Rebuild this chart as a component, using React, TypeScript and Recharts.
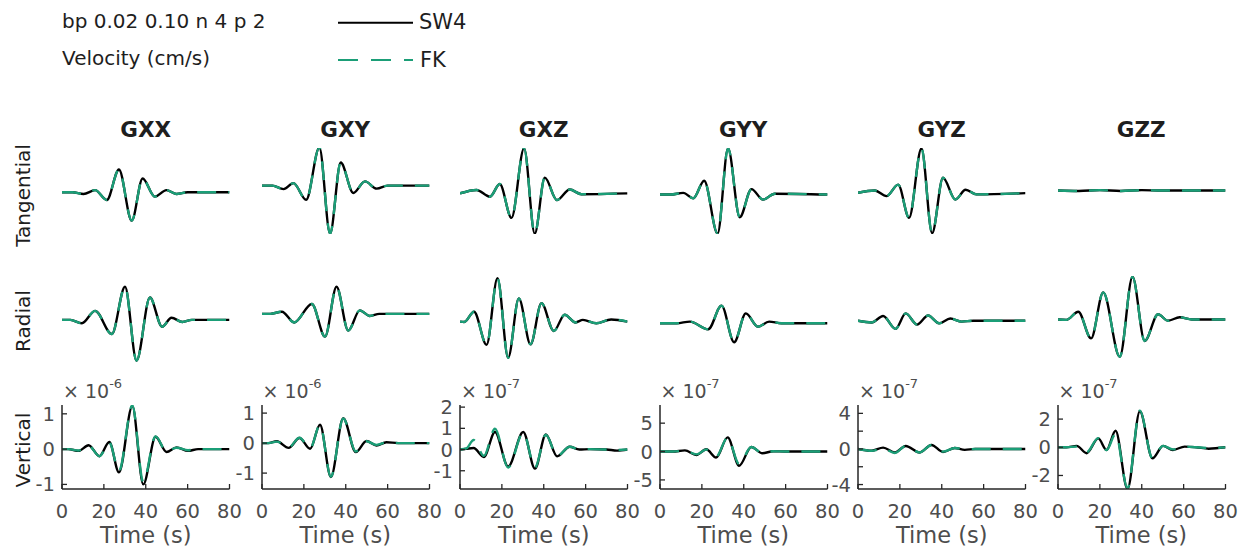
import { LineChart, Line, XAxis, YAxis } from 'recharts'

const FONT = '"DejaVu Sans", sans-serif'
const GREEN = '#1b9e77'
const AXIS = '#262626'
const LABEL = '#4d4d4d'
const INK = '#1e1e1e'

const components = ['GXX', 'GXY', 'GXZ', 'GYY', 'GYZ', 'GZZ']
const rowNames = ['Tangential', 'Radial', 'Vertical']
const timeTicks = [0, 20, 40, 60, 80]

// Tangential traces, normalised amplitude, sampled at the wiggle extrema (s)
const tanTimes = [
  [0, 5, 10.3, 15.8, 21.4, 27.2, 33.3, 38.5, 44.3, 49.9, 54.6, 60, 80],
  [0, 5, 10.3, 15.0, 21.1, 27.4, 32.5, 37.6, 43.6, 49.2, 54.8, 60, 80],
  [0, 7.9, 14.3, 19.0, 24.6, 30.6, 35.7, 40.5, 46.3, 52.4, 58, 80],
  [0, 5, 11.1, 15.9, 21.1, 27.5, 32.5, 38.1, 43.7, 49.2, 54.8, 80],
  [0, 8.0, 13.6, 19.2, 24.4, 30.3, 35.4, 40.6, 46.5, 51.4, 56.5, 80],
  [0, 10, 20, 30, 40, 50, 80],
]
const tanSW4 = [
  [0, 0, -0.04, 0.05, -0.18, 0.53, -0.66, 0.32, -0.1, 0.05, -0.04, 0, 0],
  [0, 0, -0.08, 0.06, -0.33, 0.89, -1.12, 0.54, -0.17, 0.1, -0.07, 0, 0],
  [0, 0.08, -0.08, 0.22, -0.58, 1.06, -0.95, 0.37, -0.16, 0.09, -0.02, 0],
  [0, 0, 0.04, -0.09, 0.33, -0.93, 1.1, -0.54, 0.13, -0.12, 0.02, 0],
  [0, 0.05, -0.08, 0.19, -0.59, 1.04, -0.95, 0.35, -0.16, 0.07, -0.04, -0.01],
  [0, -0.01, 0.01, -0.01, 0.01, 0, 0],
]
// FK overlies SW4 on the tangential and radial rows
const tanFK = tanSW4
const tanLim = [[-0.97, 1.03], [-1.13, 0.88], [-0.96, 1.07], [-0.94, 1.11], [-0.97, 1.05], [-1.01, 0.99]]

// Radial traces
const radTimes = [
  [0, 4, 9.5, 15.8, 23.8, 30.1, 35.6, 42.0, 47.8, 52.3, 57.5, 62, 80],
  [0, 4, 9.5, 15.4, 23.8, 30.1, 35.6, 41.2, 46.7, 51.5, 56, 80],
  [0, 2, 6.7, 12.7, 17.9, 23.0, 28.1, 33.7, 38.9, 44.8, 50.0, 55.2, 58.7, 65.1, 72.2, 80],
  [0, 8, 14.3, 23.0, 29.4, 35.4, 41.0, 46.8, 52.1, 58, 80],
  [0, 6.5, 12.0, 17.9, 22.8, 28.2, 33.5, 38.7, 44.1, 49.5, 55, 80],
  [0, 4, 9.7, 15.8, 21.6, 29.5, 35.6, 41.4, 47.8, 52.5, 58.1, 64, 80],
]
const radSW4 = [
  [0, 0, -0.08, 0.21, -0.33, 0.77, -0.95, 0.52, -0.16, 0.05, -0.05, 0, 0],
  [0, 0, 0.05, -0.2, 0.23, -0.53, 0.63, -0.39, 0.08, -0.05, 0, 0],
  [0, -0.01, 0.23, -0.54, 1.01, -0.84, 0.54, -0.53, 0.43, -0.22, 0.16, -0.02, 0.04, -0.04, 0.05, 0],
  [0, 0, 0.04, -0.14, 0.41, -0.44, 0.23, -0.08, 0.04, 0, 0],
  [0, -0.04, 0.11, -0.19, 0.17, -0.09, 0.12, -0.06, 0.05, -0.02, 0, 0],
  [0, -0.01, 0.18, -0.44, 0.63, -0.87, 0.99, -0.5, 0.12, -0.03, 0.05, 0, 0],
]
const radFK = radSW4
const radLim = [[-0.98, 1.02], [-1.12, 0.88], [-0.94, 1.06], [-0.9, 1.1], [-0.96, 1.04], [-0.99, 1.01]]

// Vertical traces, in units of 10^vertExp cm/s
const vertTimes = [
  [0, 3, 7.9, 12.7, 17.9, 22.6, 27.2, 33.6, 38.8, 44.7, 49.9, 54.7, 60.2, 65, 80],
  [0, 3, 7.1, 12.7, 17.9, 23.0, 27.7, 32.9, 38.8, 44.8, 49.9, 54.7, 59.4, 65, 80],
  [0, 3, 6.5, 11.4, 16.7, 23.0, 30.2, 35.8, 41.0, 46.4, 52.4, 57, 62, 70, 75, 80],
  [0, 6, 11.9, 17.4, 22.1, 26.8, 32.3, 37.8, 43.6, 48.9, 54, 60, 80],
  [0, 6.5, 12.0, 17.6, 22.8, 29.5, 35.1, 40.6, 46.2, 51, 56, 80],
  [0, 4, 8.9, 13.7, 19.2, 23.2, 27.5, 33.2, 39.1, 45.1, 50.2, 54.9, 60.5, 66, 72, 80],
]
const vertSW4 = [
  [0, 0, -0.05, 0.11, -0.2, 0.2, -0.66, 1.22, -1.0, 0.35, -0.08, 0.05, -0.05, 0, 0],
  [0, 0, 0.06, -0.16, 0.17, -0.19, 0.61, -1.13, 0.83, -0.3, 0.07, -0.08, 0.03, 0, 0],
  [0, 0.03, 0.07, -0.35, 0.83, -0.8, 0.83, -0.9, 0.71, -0.32, 0.13, 0, 0.02, 0, -0.05, 0],
  [0, 0, 0.2, -0.6, 0.4, -1.06, 2.5, -2.5, 0.8, -0.3, 0.05, 0, 0],
  [0, -0.2, 0.15, -0.4, 0.34, -0.4, 0.45, -0.34, 0.11, -0.1, 0, 0],
  [0, 0, 0.1, -0.42, 0.63, -0.19, 1.17, -2.95, 2.56, -0.78, 0.1, -0.19, 0.05, 0, -0.1, 0],
]
const vertFK = [
  [0, 0, -0.04, 0.1, -0.2, 0.19, -0.62, 1.24, -0.93, 0.36, -0.07, 0.04, -0.03, 0, 0],
  [0, 0, 0.05, -0.15, 0.18, -0.17, 0.6, -1.12, 0.82, -0.28, 0.06, -0.06, 0.02, 0, 0],
  [0, 0.05, 0.45, -0.3, 0.98, -0.85, 0.8, -0.85, 0.7, -0.3, 0.13, 0, 0.02, 0, -0.02, 0],
  [0, 0, 0.15, -0.5, 0.35, -0.9, 2.45, -2.2, 0.8, -0.25, 0.05, 0, 0],
  [0, -0.2, 0.05, -0.45, 0.34, -0.4, 0.45, -0.3, 0.11, -0.05, 0, 0],
  [0, 0, 0.05, -0.35, 0.65, -0.2, 0.95, -2.9, 2.6, -0.78, 0.1, -0.15, 0.05, 0, -0.05, 0],
]
const vertLim = [[-1.13, 1.25], [-1.53, 1.27], [-1.86, 2.1], [-6.6, 8.2], [-4.5, 4.94], [-2.96, 3.0]]
const vertTicks = [[-1, 0, 1], [-1, 0, 1], [-1, 0, 1, 2], [-5, 0, 5], [-4, -2, 0, 2, 4], [-2, 0, 2]]
const vertLabelled = [[-1, 0, 1], [-1, 0, 1], [-1, 0, 1, 2], [-5, 0, 5], [-4, 0, 4], [-2, 0, 2]]
const vertExp = [-6, -6, -7, -7, -7, -7]

const rowTimes = [tanTimes, radTimes, vertTimes]
const rowSW4 = [tanSW4, radSW4, vertSW4]
const rowFK = [tanFK, radFK, vertFK]
const rowLim = [tanLim, radLim, vertLim]

// subplot geometry (plot-area left edge, width, top, height)
const COL_X = [62, 261.5, 460, 659.5, 858, 1057.5]
const PLOT_W = 167.5
const ROW_TOP = [148, 276, 405]
const ROW_H = [86, 86, 84]
const PAD_L = 52
const PAD_T = 10
const PAD_R = 20
const PAD_B = 48

const toPoints = (t: number[], v: number[]) => t.map((x, i) => ({ t: x, v: v[i] }))

function XTick(props: any) {
  const { x, y, payload } = props
  return (
    <g>
      <line x1={x} y1={y} x2={x} y2={y - 5} stroke={AXIS} strokeWidth={1.3} />
      <text x={x} y={y + 29} textAnchor="middle" fontFamily={FONT} fontSize={19.5} fill={LABEL}>
        {payload.value}
      </text>
    </g>
  )
}

function YTick(props: any) {
  const { x, y, payload, labelled } = props
  return (
    <g>
      <line x1={x} y1={y} x2={x + 5} y2={y} stroke={AXIS} strokeWidth={1.3} />
      {labelled.includes(payload.value) && (
        <text x={x - 7} y={y + 7} textAnchor="end" fontFamily={FONT} fontSize={19.5} fill={LABEL}>
          {payload.value}
        </text>
      )}
    </g>
  )
}

function Panel({ r, c }: { r: number; c: number }) {
  const axes = r === 2
  const sw4 = toPoints(rowTimes[r][c], rowSW4[r][c])
  const fk = toPoints(rowTimes[r][c], rowFK[r][c])
  // visible axes take a 1px band, hidden ones take none
  const ax = axes ? 1 : 0
  const margin = { top: PAD_T, right: PAD_R, left: PAD_L - ax, bottom: PAD_B - ax }
  return (
    <div style={{ position: 'absolute', left: COL_X[c] - PAD_L, top: ROW_TOP[r] - PAD_T }}>
      <LineChart width={PLOT_W + PAD_L + PAD_R} height={ROW_H[r] + PAD_T + PAD_B} margin={margin}>
        <XAxis
          type="number"
          dataKey="t"
          domain={[0, 80]}
          ticks={timeTicks}
          allowDataOverflow
          hide={!axes}
          height={1}
          tickSize={0}
          tickMargin={0}
          tickLine={false}
          axisLine={{ stroke: AXIS, strokeWidth: 1.5 }}
          tick={(p: any) => <XTick {...p} />}
          interval={0}
        />
        <YAxis
          type="number"
          domain={rowLim[r][c]}
          ticks={axes ? vertTicks[c] : undefined}
          allowDataOverflow
          hide={!axes}
          width={1}
          tickSize={0}
          tickMargin={0}
          tickLine={false}
          axisLine={{ stroke: AXIS, strokeWidth: 1.5 }}
          tick={(p: any) => <YTick {...p} labelled={vertLabelled[c]} />}
          interval={0}
        />
        <Line
          data={sw4}
          dataKey="v"
          type="monotone"
          stroke="#000000"
          strokeWidth={2.4}
          dot={false}
          isAnimationActive={false}
        />
        <Line
          data={fk}
          dataKey="v"
          type="monotone"
          stroke={GREEN}
          strokeWidth={2.4}
          strokeDasharray="19 12"
          dot={false}
          isAnimationActive={false}
        />
      </LineChart>
    </div>
  )
}

export default function App() {
  const rowCenters = [195.5, 321, 450]
  return (
    <div style={{ position: 'absolute', left: 0, top: 0, width: 1246, height: 556, background: '#fff' }}>
      {[0, 1, 2].map((r) => components.map((_, c) => <Panel key={`${r}-${c}`} r={r} c={c} />))}
      <svg width={1246} height={556} style={{ position: 'absolute', left: 0, top: 0, pointerEvents: 'none' }}>
        <g fontFamily={FONT} fill={INK}>
          <text x={62} y={28} fontSize={20}>bp 0.02 0.10 n 4 p 2</text>
          <text x={62} y={65} fontSize={20}>Velocity (cm/s)</text>
          <line x1={338} y1={22.7} x2={413} y2={22.7} stroke="#000" strokeWidth={2} />
          <text x={419} y={29} fontSize={21}>SW4</text>
          <line x1={338} y1={60} x2={413} y2={60} stroke={GREEN} strokeWidth={2} strokeDasharray="20 13" />
          <text x={420} y={66.5} fontSize={21}>FK</text>
          {components.map((name, c) => (
            <text
              key={name}
              x={COL_X[c] + PLOT_W / 2}
              y={136.7}
              textAnchor="middle"
              fontSize={21.5}
              fontWeight="bold"
            >
              {name}
            </text>
          ))}
          {rowNames.map((name, r) => (
            <text
              key={name}
              x={29.5}
              y={rowCenters[r]}
              transform={`rotate(-90 29.5 ${rowCenters[r]})`}
              textAnchor="middle"
              fontSize={20}
            >
              {name}
            </text>
          ))}
          {components.map((name, c) => (
            <g key={`lab-${name}`} fill={LABEL}>
              <text x={COL_X[c] + 1} y={398} fontSize={19}>
                {'× 10'}
                <tspan dy={-10} fontSize={13}>{vertExp[c]}</tspan>
              </text>
              <text x={COL_X[c] + PLOT_W / 2} y={543} textAnchor="middle" fontSize={22.5}>
                Time (s)
              </text>
            </g>
          ))}
        </g>
      </svg>
    </div>
  )
}
